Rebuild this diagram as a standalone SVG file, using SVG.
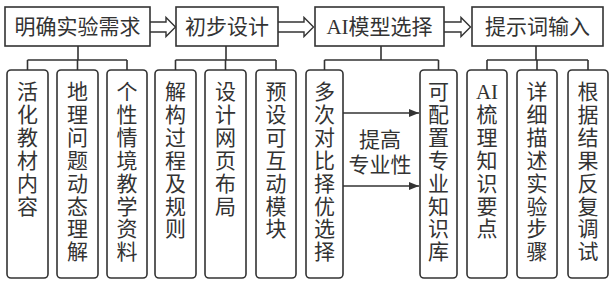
<svg xmlns="http://www.w3.org/2000/svg" width="610" height="282" viewBox="0 0 610 282">
<defs>
<style>
.box{fill:#fff;stroke:#333;stroke-width:1.6}
.child{fill:#fff;stroke:#333;stroke-width:1.6}
.ln{fill:none;stroke:#333;stroke-width:1.6}
.hol{fill:#fff;stroke:#333;stroke-width:1.4;stroke-linejoin:miter}
text{font-family:"Liberation Serif","Noto Sans CJK SC",serif;font-size:21px;fill:#333;text-anchor:middle;dominant-baseline:central}
</style>
<marker id="ah" markerWidth="10" markerHeight="8" refX="10" refY="4" orient="auto" markerUnits="userSpaceOnUse">
<path d="M0,0 L10,4 L0,8 Z" fill="#333"/>
</marker>
</defs>
<rect width="610" height="282" fill="#fff"/>
<g id="connectors">
<path class="ln" d="M78,46 V60 M27.5,60 H127 M27.5,60 V70 M77.5,60 V70 M127,60 V70"/>
<path class="ln" d="M226,46 V60 M175.5,60 H276 M175.5,60 V70 M225.5,60 V70 M276,60 V70"/>
<path class="ln" d="M381,46 V60 M324.5,60 H438.5 M324.5,60 V70 M438.5,60 V70"/>
<path class="ln" d="M536,46 V60 M487,60 H588 M487,60 V70 M537,60 V70 M588,60 V70"/>
<path class="hol" d="M150,22 H166 V17.5 L175.5,27 L166,36.5 V32 H150"/>
<path class="hol" d="M278,22 H304 V17.5 L313.5,27 L304,36.5 V32 H278"/>
<path class="hol" d="M444,22 H461 V17.5 L470.5,27 L461,36.5 V32 H444"/>
<line class="ln" x1="343" y1="113" x2="419" y2="113" marker-end="url(#ah)"/>
<line class="ln" x1="343" y1="186" x2="419" y2="186" marker-end="url(#ah)"/>
<text x="380" y="140">提高</text>
<text x="380" y="165">专业性</text>
</g>
<g id="n1"><rect class="box" x="5" y="7" width="145" height="39"/><text x="77.5" y="27">明确实验需求</text></g>
<g id="n2"><rect class="box" x="176" y="7" width="102" height="39"/><text x="227" y="27">初步设计</text></g>
<g id="n3"><rect class="box" x="315" y="7" width="129" height="39"/><text x="379.5" y="27">AI模型选择</text></g>
<g id="n4"><rect class="box" x="472" y="7" width="131" height="39"/><text x="537.5" y="27">提示词输入</text></g>
<g id="c1"><rect class="child" x="7" y="70" width="41" height="208" rx="4"/>
<text><tspan x="27.5" y="92">活</tspan><tspan x="27.5" y="114.9">化</tspan><tspan x="27.5" y="137.8">教</tspan><tspan x="27.5" y="160.7">材</tspan><tspan x="27.5" y="183.6">内</tspan><tspan x="27.5" y="206.5">容</tspan></text></g>
<g id="c2"><rect class="child" x="57" y="70" width="41" height="208" rx="4"/>
<text><tspan x="77.5" y="92">地</tspan><tspan x="77.5" y="114.9">理</tspan><tspan x="77.5" y="137.8">问</tspan><tspan x="77.5" y="160.7">题</tspan><tspan x="77.5" y="183.6">动</tspan><tspan x="77.5" y="206.5">态</tspan><tspan x="77.5" y="229.4">理</tspan><tspan x="77.5" y="252.3">解</tspan></text></g>
<g id="c3"><rect class="child" x="107" y="70" width="40" height="208" rx="4"/>
<text><tspan x="127" y="92">个</tspan><tspan x="127" y="114.9">性</tspan><tspan x="127" y="137.8">情</tspan><tspan x="127" y="160.7">境</tspan><tspan x="127" y="183.6">教</tspan><tspan x="127" y="206.5">学</tspan><tspan x="127" y="229.4">资</tspan><tspan x="127" y="252.3">料</tspan></text></g>
<g id="c4"><rect class="child" x="155" y="70" width="41" height="208" rx="4"/>
<text><tspan x="175.5" y="92">解</tspan><tspan x="175.5" y="114.9">构</tspan><tspan x="175.5" y="137.8">过</tspan><tspan x="175.5" y="160.7">程</tspan><tspan x="175.5" y="183.6">及</tspan><tspan x="175.5" y="206.5">规</tspan><tspan x="175.5" y="229.4">则</tspan></text></g>
<g id="c5"><rect class="child" x="205" y="70" width="41" height="208" rx="4"/>
<text><tspan x="225.5" y="92">设</tspan><tspan x="225.5" y="114.9">计</tspan><tspan x="225.5" y="137.8">网</tspan><tspan x="225.5" y="160.7">页</tspan><tspan x="225.5" y="183.6">布</tspan><tspan x="225.5" y="206.5">局</tspan></text></g>
<g id="c6"><rect class="child" x="256" y="70" width="40" height="208" rx="4"/>
<text><tspan x="276" y="92">预</tspan><tspan x="276" y="114.9">设</tspan><tspan x="276" y="137.8">可</tspan><tspan x="276" y="160.7">互</tspan><tspan x="276" y="183.6">动</tspan><tspan x="276" y="206.5">模</tspan><tspan x="276" y="229.4">块</tspan></text></g>
<g id="c7"><rect class="child" x="306" y="70" width="37" height="208" rx="4"/>
<text><tspan x="324.5" y="92">多</tspan><tspan x="324.5" y="114.9">次</tspan><tspan x="324.5" y="137.8">对</tspan><tspan x="324.5" y="160.7">比</tspan><tspan x="324.5" y="183.6">择</tspan><tspan x="324.5" y="206.5">优</tspan><tspan x="324.5" y="229.4">选</tspan><tspan x="324.5" y="252.3">择</tspan></text></g>
<g id="c8"><rect class="child" x="420" y="70" width="37" height="208" rx="4"/>
<text><tspan x="438.5" y="92">可</tspan><tspan x="438.5" y="114.9">配</tspan><tspan x="438.5" y="137.8">置</tspan><tspan x="438.5" y="160.7">专</tspan><tspan x="438.5" y="183.6">业</tspan><tspan x="438.5" y="206.5">知</tspan><tspan x="438.5" y="229.4">识</tspan><tspan x="438.5" y="252.3">库</tspan></text></g>
<g id="c9"><rect class="child" x="467" y="70" width="40" height="208" rx="4"/>
<text><tspan x="487" y="92">AI</tspan><tspan x="487" y="114.9">梳</tspan><tspan x="487" y="137.8">理</tspan><tspan x="487" y="160.7">知</tspan><tspan x="487" y="183.6">识</tspan><tspan x="487" y="206.5">要</tspan><tspan x="487" y="229.4">点</tspan></text></g>
<g id="c10"><rect class="child" x="517" y="70" width="40" height="208" rx="4"/>
<text><tspan x="537" y="92">详</tspan><tspan x="537" y="114.9">细</tspan><tspan x="537" y="137.8">描</tspan><tspan x="537" y="160.7">述</tspan><tspan x="537" y="183.6">实</tspan><tspan x="537" y="206.5">验</tspan><tspan x="537" y="229.4">步</tspan><tspan x="537" y="252.3">骤</tspan></text></g>
<g id="c11"><rect class="child" x="568" y="70" width="40" height="208" rx="4"/>
<text><tspan x="588" y="92">根</tspan><tspan x="588" y="114.9">据</tspan><tspan x="588" y="137.8">结</tspan><tspan x="588" y="160.7">果</tspan><tspan x="588" y="183.6">反</tspan><tspan x="588" y="206.5">复</tspan><tspan x="588" y="229.4">调</tspan><tspan x="588" y="252.3">试</tspan></text></g>
</svg>
